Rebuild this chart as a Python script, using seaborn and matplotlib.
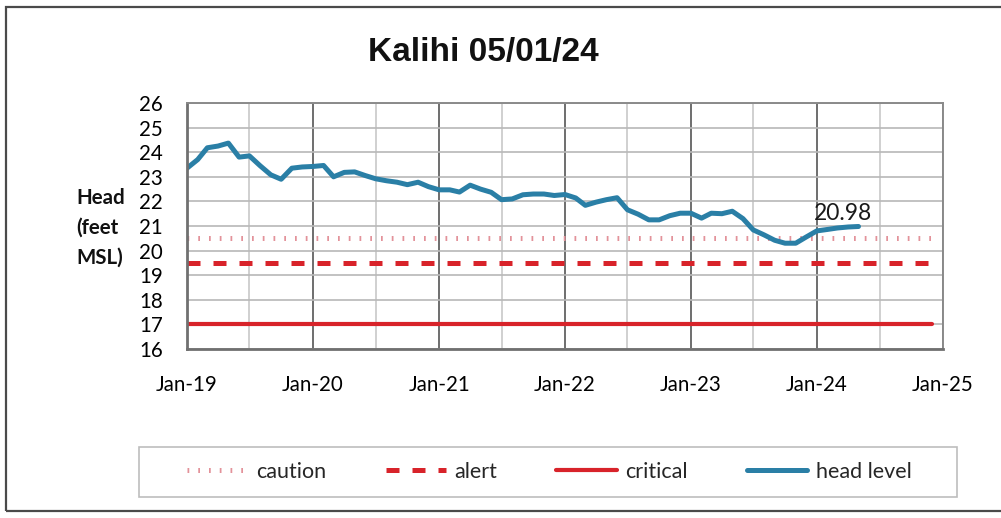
import numpy as np
import pandas as pd
import seaborn as sns
import matplotlib.pyplot as plt
import matplotlib.dates as mdates
from matplotlib.patches import Rectangle

head_start = '2019-01-01'
head_level = [23.35, 23.70, 24.18, 24.25, 24.37, 23.80, 23.85, 23.45, 23.08, 22.90, 23.35, 23.40,
              23.42, 23.46, 23.00, 23.18, 23.20, 23.05, 22.92, 22.84, 22.78, 22.68, 22.78, 22.60,
              22.47, 22.47, 22.38, 22.66, 22.50, 22.37, 22.07, 22.10, 22.27, 22.30, 22.30, 22.24,
              22.28, 22.14, 21.84, 21.97, 22.07, 22.15, 21.66, 21.48, 21.25, 21.25, 21.42, 21.52,
              21.52, 21.32, 21.52, 21.50, 21.60, 21.30, 20.84, 20.64, 20.42, 20.30, 20.30, 20.55,
              20.80, 20.86, 20.92, 20.96, 20.98]
threshold_dates = ['2019-01-01', '2024-12-01']
caution_level = [20.5, 20.5]
alert_level = [19.5, 19.5]
critical_level = [17.0, 17.0]
last_label = '20.98'
chart_title = 'Kalihi 05/01/24'
y_label = 'Head\n(feet\nMSL)'

df = pd.DataFrame({'date': pd.date_range(head_start, periods=len(head_level), freq='MS'),
                   'head': head_level})
thr = pd.DataFrame({'date': pd.to_datetime(threshold_dates), 'caution': caution_level,
                    'alert': alert_level, 'critical': critical_level})

sns.set_style('white')
plt.rcParams['font.family'] = ['Lato', 'DejaVu Sans']

fig = plt.figure(figsize=(10.01, 5.18), dpi=100)
ax = fig.add_axes([187/1001, 1-349/518, (943-187)/1001, (349-103)/518])

red = '#d8232a'
sns.lineplot(data=thr, x='date', y='caution', ax=ax, color='#e3929a', lw=3.6,
             linestyle=(0, (0.35, 1.8)), label='caution')
sns.lineplot(data=thr, x='date', y='alert', ax=ax, color=red, lw=3.6,
             linestyle=(0, (2.6, 2.6)), label='alert')
sns.lineplot(data=thr, x='date', y='critical', ax=ax, color=red, lw=3.0, label='critical')
sns.lineplot(data=df, x='date', y='head', ax=ax, color='#2a7fa6', lw=3.6, label='head level',
             estimator=None, solid_capstyle='round', solid_joinstyle='round')

ax.set_xlim(pd.Timestamp('2019-01-01'), pd.Timestamp('2025-01-01'))
ax.set_ylim(16, 26)
ax.set_yticks(np.arange(16, 27, 1))
ax.xaxis.set_major_locator(mdates.YearLocator())
ax.xaxis.set_minor_locator(mdates.MonthLocator([7]))
ax.xaxis.set_major_formatter(mdates.DateFormatter('%b-%y'))
ax.set_xlabel('')
ax.set_ylabel('')

ax.set_axisbelow(True)
ax.yaxis.grid(True, color='#b8b8b8', lw=1.2)
ax.xaxis.grid(True, which='major', color='#6e6e6e', lw=1.4)
ax.xaxis.grid(True, which='minor', color='#c8c8c8', lw=1.2)
for side in ['left', 'bottom']:
    ax.spines[side].set_color('#707070')
    ax.spines[side].set_linewidth(2)
for side in ['top', 'right']:
    ax.spines[side].set_color('#8a8a8a')
    ax.spines[side].set_linewidth(1.4)

ax.tick_params(axis='both', which='major', direction='out', length=6.5, width=1.5,
               color='#707070', labelsize=14.8, labelcolor='#000000')
ax.tick_params(axis='y', pad=11)
ax.tick_params(axis='x', pad=12.5)
ax.tick_params(axis='x', which='minor', length=0)

ax.annotate(last_label, xy=(df['date'].iloc[-1], df['head'].iloc[-1]), xytext=(-11, 2),
            textcoords='offset points', ha='center', va='bottom', fontsize=16.5, color='#1a1a1a')

fig.text(483/1001, 1-52/518, chart_title, ha='center', va='center', fontsize=24,
         fontweight='bold', family='Liberation Sans', color='#111111')
fig.text(101/1001, 1-228/518, y_label, ha='center', va='center', fontsize=14.8,
         fontweight='bold', linespacing=1.6, multialignment='left', color='#111111')

# legend entries inset from the box, box drawn separately
handles, labels = ax.get_legend_handles_labels()
ax.get_legend().remove()
fig.legend(handles, labels, loc='center', ncol=4, mode='expand',
           bbox_to_anchor=(181/1001, 1-497/518, (918-181)/1001, 50/518), borderaxespad=0,
           fontsize=15.5, handlelength=2.8, handletextpad=0.4, borderpad=0.3, frameon=False)
fig.add_artist(Rectangle((139/1001, 1-497/518), (957-139)/1001, 50/518,
                         transform=fig.transFigure, fill=False, edgecolor='#bdbdbd', lw=1.2))

fig.add_artist(Rectangle((6/1001, 1-511/518), 1.0, (511-7)/518, transform=fig.transFigure,
                         fill=False, edgecolor='#4a4a4a', lw=1.6))

fig.savefig('out.png', dpi=100)
